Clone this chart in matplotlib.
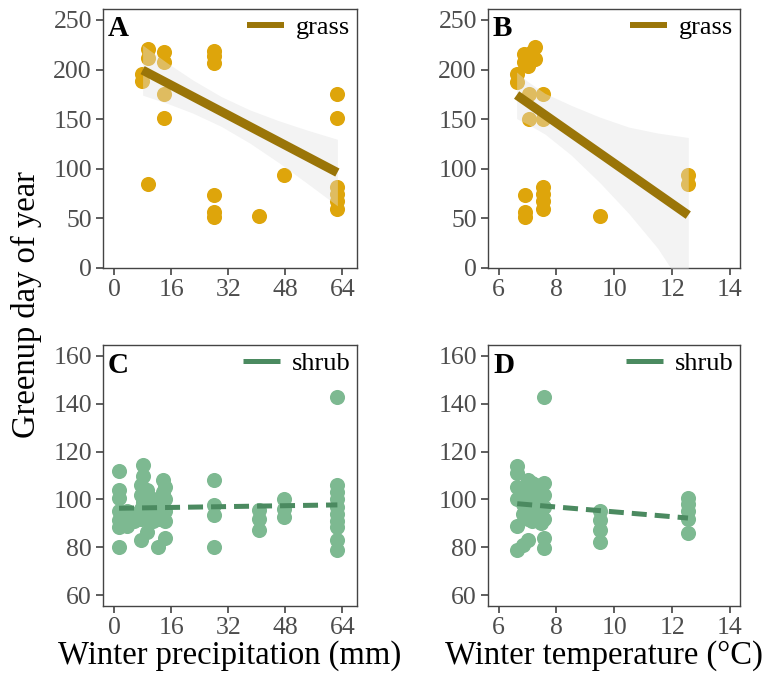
import matplotlib
matplotlib.use('Agg')
import matplotlib.pyplot as plt
from matplotlib.lines import Line2D

plt.rcParams['font.family'] = ['Liberation Serif', 'DejaVu Serif']

GRASS_PT = '#DEA50B'
GRASS_LN = '#9A7508'
SHRUB_PT = '#7DB991'
SHRUB_LN = '#4B8A60'
BAND = '#E1E1E1'

# grass, winter precipitation (mm) vs greenup day
grass_precip = [9.6, 9.6, 7.9, 7.9, 9.6, 14.1, 14.1, 14.1, 14.1,
                28, 28, 28, 28, 28, 28, 40.7, 47.7,
                62.6, 62.6, 62.6, 62.6, 62.6, 62.6]
grass_precip_day = [221, 212, 196, 188, 85, 218, 207.5, 175, 151.6,
                    219, 214, 206.5, 74, 56.6, 51, 52.6, 93.6,
                    175, 151.6, 81.8, 75, 68, 59]
grass_precip_fit_x = [8.0, 62.6]
grass_precip_fit_y = [199.4, 96.2]
grass_precip_band_x = [8.0, 15, 22, 30, 38, 46, 54, 62.6]
grass_precip_band_lo = [174.2, 165.8, 156.2, 142.8, 126.0, 106.6, 85.7, 62.7]
grass_precip_band_hi = [224.6, 206.4, 189.6, 172.8, 159.4, 148.6, 139.1, 129.7]

# grass, winter temperature (°C) vs greenup day
grass_temp = [6.62, 6.62, 6.87, 6.87, 6.91, 6.91, 6.91, 7.0, 7.0, 7.06, 7.06,
              7.15, 7.15, 7.26, 7.26, 7.55, 7.55, 7.55, 7.55, 7.55, 7.55,
              9.51, 12.56, 12.56]
grass_temp_day = [195.8, 187.4, 216, 207.5, 73.4, 56.6, 51, 212, 204, 175.7, 150.6,
                  218, 210, 222.6, 211, 175.7, 150.6, 81.8, 75, 68, 59.5,
                  52.9, 93.6, 84.5]
grass_temp_fit_x = [6.62, 12.56]
grass_temp_fit_y = [174.3, 53.3]
grass_temp_band_x = [6.62, 7.0, 7.6, 8.5, 9.5, 10.5, 11.5, 12.56]
grass_temp_band_lo = [150.6, 145, 135, 114, 86, 55, 20, -27]
grass_temp_band_hi = [197.5, 188, 176, 164, 152, 142, 136, 131.5]

# shrub, winter precipitation (mm) vs greenup day
shrub_precip = [1.4, 1.4, 1.4, 1.4, 1.4, 1.4, 1.4,
                3.5, 3.5, 3.5, 5.5, 5.5,
                7.5, 7.5, 7.5, 7.5, 7.5, 8.2, 8.2, 8.2, 8.2,
                9.2, 9.2, 9.2, 9.2, 10.8, 10.8, 10.8, 12.4, 12.4, 12.4,
                13.8, 13.8, 14.3, 14.3, 14.3, 14.3, 14.3,
                28, 28, 28, 28, 40.7, 40.7, 40.7, 47.7, 47.7, 47.7,
                62.6, 62.6, 62.6, 62.6, 62.6, 62.6, 62.6, 62.6, 62.6, 62.6]
shrub_precip_day = [112, 104, 100.5, 95, 91.5, 88.5, 80,
                    95, 92, 89, 94, 91,
                    106, 102, 96, 92, 83, 114.5, 110, 99, 94,
                    104, 97, 92, 86.5, 100, 95, 91, 96, 92, 80,
                    108, 103, 105, 100, 95, 91, 84,
                    108, 97.5, 93.5, 80, 95.5, 92, 87, 100, 96, 92.5,
                    143, 106, 103, 100, 97, 94, 91, 88.5, 83, 79]
shrub_precip_fit_x = [1.4, 62.6]
shrub_precip_fit_y = [96.3, 97.7]

# shrub, winter temperature (°C) vs greenup day
shrub_temp = [6.64, 6.64, 6.64, 6.64, 6.64, 6.64,
              6.85, 6.85, 6.85, 6.85, 7.0, 7.0, 7.0, 7.0, 7.0,
              7.15, 7.15, 7.15, 7.15, 7.15, 7.3, 7.3, 7.3, 7.3,
              7.45, 7.45, 7.45, 7.45, 7.56, 7.56, 7.56, 7.56, 7.56, 7.56, 7.56,
              9.52, 9.52, 9.52, 9.52, 12.55, 12.55, 12.55, 12.55, 12.55]
shrub_temp_day = [114, 111, 105, 100, 89, 79,
                  104, 98, 94, 81, 108, 101, 96, 92, 83,
                  107, 103, 99, 95, 91, 106, 100, 97, 93,
                  104, 98, 94, 90, 143, 107, 102, 97, 92, 84, 79.5,
                  95, 91.5, 87, 82, 100.5, 98, 95, 92, 86]
shrub_temp_fit_x = [6.64, 12.55]
shrub_temp_fit_y = [98.2, 92.2]

precip_ticks = [0, 16, 32, 48, 64]
temp_ticks = [6, 8, 10, 12, 14]
grass_ticks = [0, 50, 100, 150, 200, 250]
shrub_ticks = [60, 80, 100, 120, 140, 160]

W, H = 771, 683
fig = plt.figure(figsize=(W / 100, H / 100), dpi=100)

def box(l, t, r, b):
    return [l / W, 1 - b / H, (r - l) / W, (b - t) / H]

axA = fig.add_axes(box(103, 9, 357, 268))
axB = fig.add_axes(box(488, 9, 740, 268))
axC = fig.add_axes(box(103, 345, 357, 606))
axD = fig.add_axes(box(488, 345, 740, 606))

def style(ax, xticks, yticks, xlim, ylim, letter):
    ax.set_xlim(*xlim)
    ax.set_ylim(*ylim)
    ax.set_xticks(xticks)
    ax.set_yticks(yticks)
    ax.tick_params(direction='out', length=5, width=1.1, color='#333333',
                   labelcolor='#4D4D4D', labelsize=18.5, pad=3)
    for s in ax.spines.values():
        s.set_color('#444444')
        s.set_linewidth(1.0)
    ax.text(0.02, 0.975, letter, transform=ax.transAxes, ha='left', va='top',
            fontsize=21, fontweight='bold', color='black')

def grass_panel(ax, x, y, fx, fy, bx, blo, bhi):
    ax.scatter(x, y, s=118, color=GRASS_PT, linewidths=0, zorder=2)
    ax.fill_between(bx, blo, bhi, color=BAND, alpha=0.4, linewidth=0, zorder=3)
    ax.plot(fx, fy, color=GRASS_LN, lw=6.5, solid_capstyle='butt', zorder=4)
    h = [Line2D([], [], color=GRASS_LN, lw=4.3, solid_capstyle='butt')]
    ax.legend(handles=h, labels=['grass'], loc='upper right', frameon=False,
              fontsize=19, handlelength=1.4, handletextpad=0.45,
              borderaxespad=0.05, borderpad=0.2)

def shrub_panel(ax, x, y, fx, fy):
    ax.scatter(x, y, s=118, color=SHRUB_PT, linewidths=0, zorder=2)
    ax.plot(fx, fy, color=SHRUB_LN, lw=3.6, linestyle=(0, (3, 1.6)),
            dash_capstyle='butt', zorder=4)
    h = [Line2D([], [], color=SHRUB_LN, lw=3.6, solid_capstyle='butt')]
    ax.legend(handles=h, labels=['shrub'], loc='upper right', frameon=False,
              fontsize=19, handlelength=1.4, handletextpad=0.45,
              borderaxespad=0.05, borderpad=0.2)

grass_panel(axA, grass_precip, grass_precip_day, grass_precip_fit_x, grass_precip_fit_y,
            grass_precip_band_x, grass_precip_band_lo, grass_precip_band_hi)
grass_panel(axB, grass_temp, grass_temp_day, grass_temp_fit_x, grass_temp_fit_y,
            grass_temp_band_x, grass_temp_band_lo, grass_temp_band_hi)
shrub_panel(axC, shrub_precip, shrub_precip_day, shrub_precip_fit_x, shrub_precip_fit_y)
shrub_panel(axD, shrub_temp, shrub_temp_day, shrub_temp_fit_x, shrub_temp_fit_y)

style(axA, precip_ticks, grass_ticks, (-3.1, 68.1), (0, 261), 'A')
style(axB, temp_ticks, grass_ticks, (5.63, 14.35), (0, 261), 'B')
style(axC, precip_ticks, shrub_ticks, (-3.1, 68.1), (55.4, 164.6), 'C')
style(axD, temp_ticks, shrub_ticks, (5.63, 14.35), (55.4, 164.6), 'D')

axC.set_xlabel('Winter precipitation (mm)', fontsize=23.5, labelpad=4)
axD.set_xlabel('Winter temperature (°C)', fontsize=23.5, labelpad=4)
axD.xaxis.set_label_coords(0.46, -0.13)
axC.xaxis.set_label_coords(0.5, -0.13)
fig.text(26 / W, 1 - 305 / H, 'Greenup day of year', rotation=90,
         ha='center', va='center', fontsize=23.5)

fig.savefig('out.png', dpi=100)
